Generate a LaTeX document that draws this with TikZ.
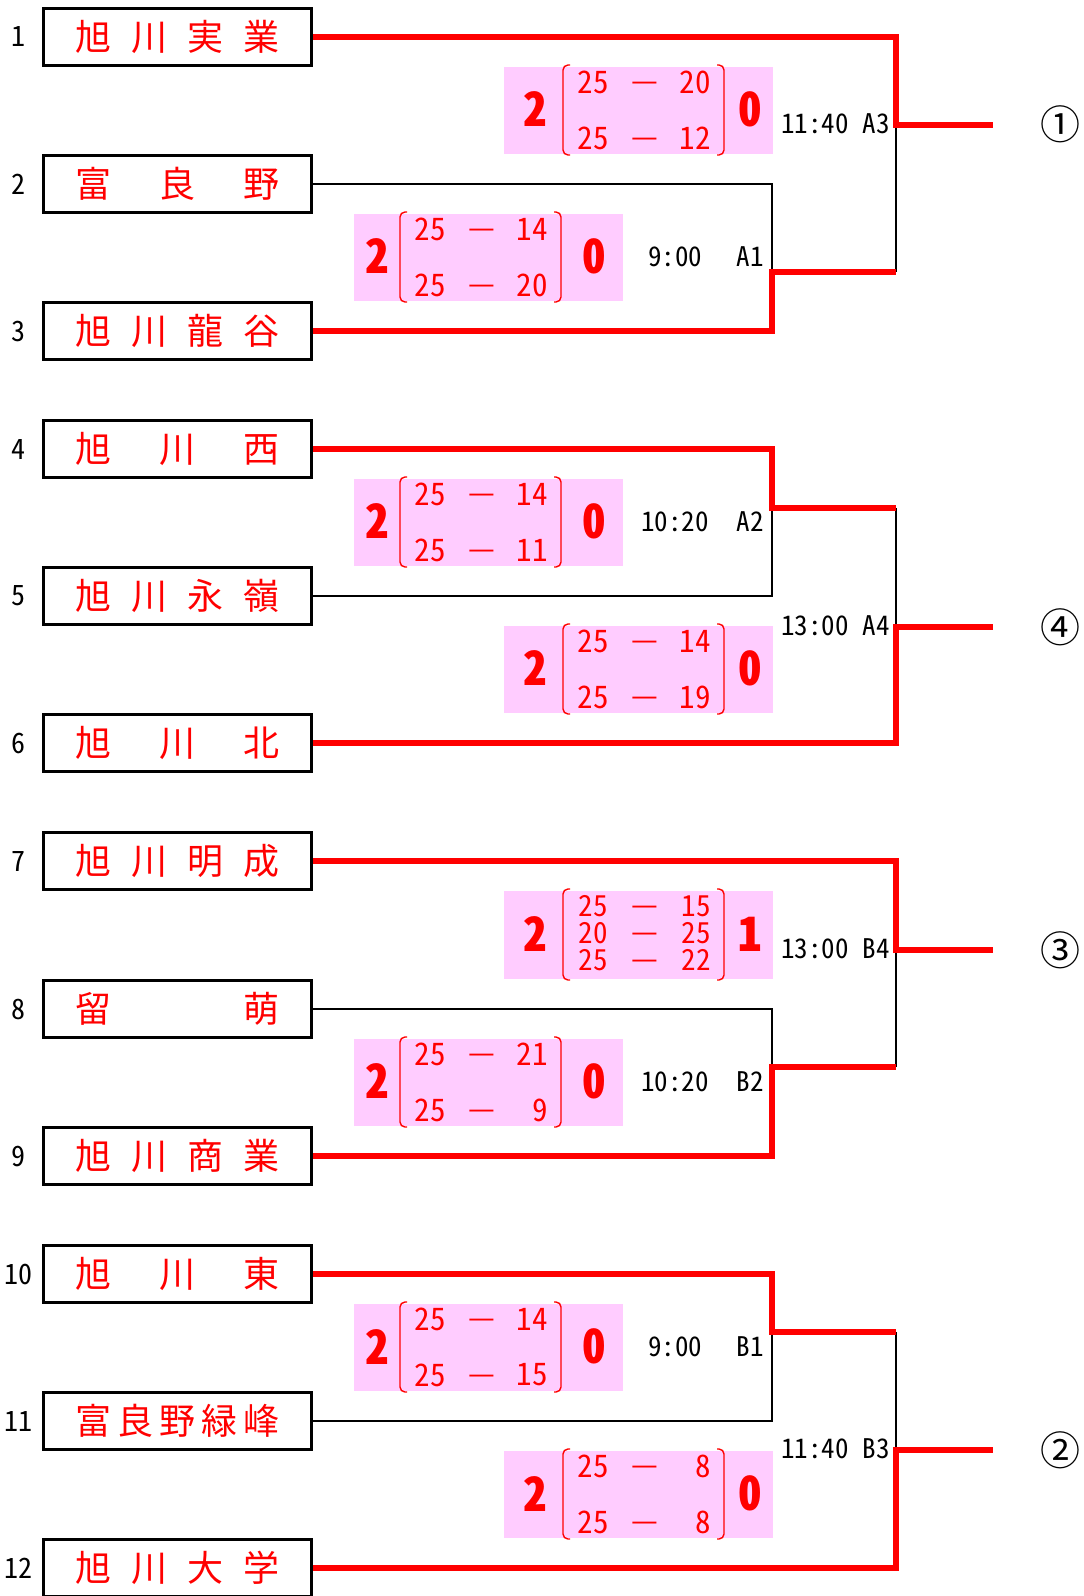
\documentclass[tikz,border=0pt]{standalone}
\usepackage{fontspec}
\setmainfont{Noto Sans CJK JP}
\newfontfamily\numfont[RawFeature=+hwid]{Noto Sans CJK JP}
\usetikzlibrary{positioning}
\definecolor{winred}{RGB}{255,0,0}
\definecolor{pinkbg}{RGB}{255,204,255}

\tikzset{
  team/.style={draw, line width=3.4pt, minimum width=268pt, minimum height=57pt, inner sep=0pt, text=winred, font=\fontsize{36}{40}\selectfont},
  seed/.style={font=\numfont\fontsize{28}{30}\selectfont, inner sep=0pt},
  win/.style={draw=winred, line width=6pt},
  lose/.style={draw=black, line width=2.6pt},
  sets/.style={text=winred, font=\numfont\bfseries\fontsize{47}{50}\selectfont, inner sep=0pt},
  pts/.style={text=winred, font=\numfont\fontsize{31}{34}\selectfont, inner sep=0pt},
  bar/.style={text=winred, font=\fontsize{30}{32}\selectfont, inner sep=0pt},
  slot/.style={font=\numfont\fontsize{27}{30}\selectfont, inner sep=0pt},
  paren/.style={winred, line width=1.4pt, rounded corners=5pt},
  rank/.style={font=\fontsize{40}{44}\selectfont, inner sep=0pt}
}

\newcommand{\tname}[1]{\makebox[204pt]{#1}}
% score card: pink left, bracket left, top, bottom, x of won, x of lost, won, lost
\newcommand{\card}[8]{%
  \fill[pinkbg] (#1,#3) rectangle ({#1+269},#4);
  \draw[paren] ({#2+7},{#3-2}) -- (#2,{#3-2}) -- (#2,{#4+1}) -- ({#2+7},{#4+1});
  \draw[paren] ({#2+154},{#3-2}) -- ({#2+161},{#3-2}) -- ({#2+161},{#4+1}) -- ({#2+154},{#4+1});
  \node[sets] at (#5,{(#3+#4)/2-1}) {#7};
  \node[sets] at (#6,{(#3+#4)/2-1}) {#8};
}
% one set: bracket left, y, points
\newcommand{\pset}[4]{%
  \node[pts] at ({#1+30},#2) {#3};
  \node[bar] at ({#1+82},{#2+5}) {—};
  \node[pts,anchor=east] at ({#1+148},#2) {#4};
}

\begin{document}
\begin{tikzpicture}[x=1pt,y=-1pt]
    \useasboundingbox (0,0) rectangle (1084,1596);

    % score cards
    \card{504}{563}{67}{154}{535}{750}{2}{0}
    \pset{563}{82}{25}{20} \pset{563}{138}{25}{12}
    \card{354}{400}{214}{301}{377}{594}{2}{0}
    \pset{400}{229}{25}{14} \pset{400}{285}{25}{20}
    \card{354}{400}{479}{566}{377}{594}{2}{0}
    \pset{400}{494}{25}{14} \pset{400}{550}{25}{11}
    \card{504}{563}{626}{713}{535}{750}{2}{0}
    \pset{563}{641}{25}{14} \pset{563}{697}{25}{19}
    \card{504}{563}{891}{979}{535}{750}{2}{1}
    \begin{scope}[pts/.append style={font=\numfont\fontsize{29}{30}\selectfont}]
    \pset{563}{906}{25}{15} \pset{563}{933}{20}{25} \pset{563}{960}{25}{22}
    \end{scope}
    \card{354}{400}{1039}{1126}{377}{594}{2}{0}
    \pset{400}{1054}{25}{21} \pset{400}{1110}{25}{9}
    \card{354}{400}{1304}{1391}{377}{594}{2}{0}
    \pset{400}{1319}{25}{14} \pset{400}{1375}{25}{15}
    \card{504}{563}{1451}{1538}{535}{750}{2}{0}
    \pset{563}{1466}{25}{8} \pset{563}{1522}{25}{8}

    % teams
    \node[team] (t1) at (177.5,37) {\tname{旭\hfill 川\hfill 実\hfill 業}};
    \node[team] (t2) at (177.5,184) {\tname{富\hfill 良\hfill 野}};
    \node[team] (t3) at (177.5,331) {\tname{旭\hfill 川\hfill 龍\hfill 谷}};
    \node[team] (t4) at (177.5,449) {\tname{旭\hfill 川\hfill 西}};
    \node[team] (t5) at (177.5,596) {\tname{旭\hfill 川\hfill 永\hfill 嶺}};
    \node[team] (t6) at (177.5,743) {\tname{旭\hfill 川\hfill 北}};
    \node[team] (t7) at (177.5,861) {\tname{旭\hfill 川\hfill 明\hfill 成}};
    \node[team] (t8) at (177.5,1009) {\tname{留\hfill 萌}};
    \node[team] (t9) at (177.5,1156) {\tname{旭\hfill 川\hfill 商\hfill 業}};
    \node[team] (t10) at (177.5,1274) {\tname{旭\hfill 川\hfill 東}};
    \node[team] (t11) at (177.5,1421) {\tname{富\hfill 良\hfill 野\hfill 緑\hfill 峰}};
    \node[team] (t12) at (177.5,1568) {\tname{旭\hfill 川\hfill 大\hfill 学}};

    \foreach \n/\y in {1/37,2/184,3/331,4/449,5/596,6/743,7/861,8/1009,9/1156,10/1274,11/1421,12/1568}
        \node[seed] (s\n) at (19,\y) {\n};

    % junctions
    \coordinate (a1) at (772,272);
    \coordinate (a3) at (896,125);
    \coordinate (o1) at (993,125);
    \coordinate (a2) at (772,508);
    \coordinate (a4) at (896,627);
    \coordinate (o4) at (993,627);
    \coordinate (b2) at (772,1067);
    \coordinate (b4) at (896,950);
    \coordinate (o3) at (993,950);
    \coordinate (b1) at (772,1332);
    \coordinate (b3) at (896,1450);
    \coordinate (o2) at (993,1450);

    % losers
    \draw[lose] (t2.east) -| (a1);
    \draw[lose] (a1 -| a3) -- (a3);
    \draw[lose] (t5.east) -| (a2);
    \draw[lose] (a2 -| a4) -- (a4);
    \draw[lose] (t8.east) -| (b2);
    \draw[lose] (b2 -| b4) -- (b4);
    \draw[lose] (t11.east) -| (b1);
    \draw[lose] (b1 -| b3) -- (b3);

    % winners
    \draw[win] (t3.east) -| (a1) -- (a1 -| a3);
    \draw[win] (t1.east) -| (a3) -- (o1);
    \draw[win] (t4.east) -| (a2) -- (a2 -| a4);
    \draw[win] (t6.east) -| (a4) -- (o4);
    \draw[win] (t9.east) -| (b2) -- (b2 -| b4);
    \draw[win] (t7.east) -| (b4) -- (o3);
    \draw[win] (t10.east) -| (b1) -- (b1 -| b3);
    \draw[win] (t12.east) -| (b3) -- (o2);

    % match times
    \node[slot] (m1) at (675,257) {9:00};
    \node[slot] (c1) at (750,257) {A1};
    \node[slot] (m2) at (675,522) {10:20};
    \node[slot] (c2) at (750,522) {A2};
    \node[slot] (m3) at (815,124) {11:40};
    \node[slot] (c3) at (876,124) {A3};
    \node[slot] (m4) at (815,626) {13:00};
    \node[slot] (c4) at (876,626) {A4};
    \node[slot] (m5) at (675,1347) {9:00};
    \node[slot] (c5) at (750,1347) {B1};
    \node[slot] (m6) at (675,1082) {10:20};
    \node[slot] (c6) at (750,1082) {B2};
    \node[slot] (m7) at (815,1449) {11:40};
    \node[slot] (c7) at (876,1449) {B3};
    \node[slot] (m8) at (815,949) {13:00};
    \node[slot] (c8) at (876,949) {B4};

    % places
    \node[rank] (r1) at (1060,124) {①};
    \node[rank] (r4) at (1060,627) {④};
    \node[rank] (r3) at (1060,950) {③};
    \node[rank] (r2) at (1060,1450) {②};
\end{tikzpicture}
\end{document}
